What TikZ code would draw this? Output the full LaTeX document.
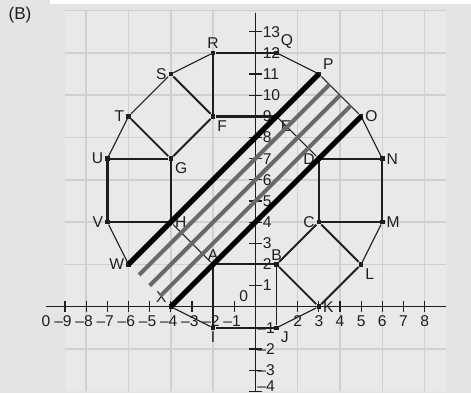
\documentclass[tikz,border=0pt]{standalone}
\usepackage{fontspec}
\setmainfont{Liberation Sans}
\definecolor{bgout}{RGB}{228,228,228}
\definecolor{bgin}{RGB}{233,233,233}
\definecolor{gridc}{RGB}{208,208,208}
\definecolor{stripe}{RGB}{105,105,105}
\definecolor{ink}{RGB}{30,30,30}
\begin{document}
\begin{tikzpicture}[x=0.5cm,y=0.5cm,
  font=\fontsize{10.5}{12}\selectfont,
  thinl/.style={line width=0.75pt,draw=ink},
  medl/.style={line width=1.25pt,draw=ink},
  thickl/.style={line width=2pt,draw=ink},
  blackband/.style={line width=3.5pt,draw=black},
  grayband/.style={line width=2.7pt,draw=stripe},
  pt/.style={rectangle,fill=ink,inner sep=0pt,minimum size=3pt},
  lab/.style={inner sep=1pt,text=ink},
  tick/.style={line width=0.75pt,draw=ink}]
\useasboundingbox (-12.076,-4.081) rectangle (10.194,14.501);
% background
\fill[bgout] (-12.076,-4.081) rectangle (10.194,14.501);
\fill[white] (-9.7,14.31) rectangle (10.194,14.501);
\fill[bgin] (-9,-4) rectangle (9,14);
\draw[gridc,line width=1pt] (-9,-4) grid (9,14);
\node[lab,font=\fontsize{11.5}{13}\selectfont] (title) at (-11.13,13.79) {(B)};
% axes
\draw[tick] (-9.9,0) -- (9,0);
\draw[tick] (0,-4) -- (0,13.9);
\foreach \i in {-9,...,-1,1,2,...,8} \draw[tick] (\i,-0.25) -- (\i,0.25);
\foreach \i in {-4,...,-1,1,2,...,13} \draw[tick] (-0.3,\i) -- (0.3,\i);
\foreach \i in {-9,...,-1} \node[lab] at (\i-0.1,-0.68) {–\the\numexpr-\i\relax};
\foreach \i in {2,...,8} \node[lab] at (\i,-0.68) {\i};
\node[lab] (zl) at (-9.9,-0.68) {0};
\node[lab] (zo) at (-0.55,0.5) {0};
\foreach \i in {1,...,13} \node[lab,anchor=west,inner sep=0.5pt] at (0.3,\i) {\i};
\foreach \i in {1,...,3} \node[lab,anchor=west,inner sep=0.5pt] at (0.05,-\i) {–\i};
\node[lab,anchor=west,inner sep=0.5pt] at (0.05,-3.75) {–4};
% points
\node[pt,label={[lab]above:R}] (R) at (-2,12) {};
\node[pt,label={[lab]above right:Q}] (Q) at (1,12) {};
\node[pt,label={[lab]above right:P}] (P) at (3,11) {};
\node[pt,label={[lab]right:O}] (O) at (5,9) {};
\node[pt,label={[lab]right:N}] (N) at (6,7) {};
\node[pt,label={[lab]right:M}] (M) at (6,4) {};
\node[pt,label={[lab]below right:L}] (L) at (5,2) {};
\node[pt,label={[lab]right:K}] (K) at (3,0) {};
\node[pt,label={[lab]below right:J}] (J) at (1,-1) {};
\node[pt,label={[lab]below:I}] (I) at (-2,-1) {};
\node[pt,label={[lab]above left:X}] (X) at (-4,0) {};
\node[pt,label={[lab]left:W}] (W) at (-6,2) {};
\node[pt,label={[lab]left:V}] (V) at (-7,4) {};
\node[pt,label={[lab]left:U}] (U) at (-7,7) {};
\node[pt,label={[lab]left:T}] (T) at (-6,9) {};
\node[pt,label={[lab]left:S}] (S) at (-4,11) {};
\node[pt,label={[lab]below right:F}] (F) at (-2,9) {};
\node[pt,label={[lab]below right:G}] (G) at (-4,7) {};
\node[pt,label={[lab]right:H}] (H) at (-4,4) {};
\node[pt,label={[lab]above:A}] (A) at (-2,2) {};
\node[pt,label={[lab]above:B}] (B) at (1,2) {};
\node[pt,label={[lab]left:C}] (C) at (3,4) {};
\node[pt,label={[lab]left:D}] (D) at (3,7) {};
\node[pt,label={[lab]below right:E}] (E) at (1,9) {};
% outline
\draw[thinl] (R) -- (S) -- (T) -- (U);
\draw[thinl] (V) -- (W);
\draw[thinl] (X) -- (I);
\draw[thinl] (K) -- (J);
\draw[thinl] (L) -- (M);
\draw[thinl] (N) -- (O) -- (P) -- (Q);
\draw[medl] (R) -- (Q);
\draw[medl] (I) -- (J);
\draw[medl] (N) -- (M);
\draw[thickl] (U) -- (V);
% inner
\draw[medl] (R) -- (F);
\draw[medl] (S) -- (F);
\draw[medl] (F) -- (G);
\draw[medl] (T) -- (G);
\draw[medl] (U) -- (G);
\draw[medl] (G) -- (H);
\draw[medl] (V) -- (H);
\draw[medl] (A) -- (B);
\draw[medl] (A) -- (I);
\draw[medl] (B) -- (J);
\draw[medl] (B) -- (C);
\draw[medl] (B) -- (K);
\draw[medl] (C) -- (L);
\draw[medl] (K) -- (L);
\draw[medl] (C) -- (M);
\draw[medl] (C) -- (D);
\draw[medl] (D) -- (N);
\draw[thickl] (F) -- (E);
\draw[thinl] (H) -- (A);
\draw[thinl] (E) -- (D);
% band
\coordinate (g1a) at (-5.5,1.5); \coordinate (g1b) at (3.5,10.5);
\coordinate (g2a) at (-5,1);     \coordinate (g2b) at (4,10);
\coordinate (g3a) at (-4.5,0.5); \coordinate (g3b) at (4.5,9.5);
\draw[grayband] (g1a) -- (g1b);
\draw[grayband] (g2a) -- (g2b);
\draw[grayband] (g3a) -- (g3b);
\draw[blackband] (W.center) -- (P.center);
\draw[blackband] (X.center) -- (O.center);
\end{tikzpicture}
\end{document}
